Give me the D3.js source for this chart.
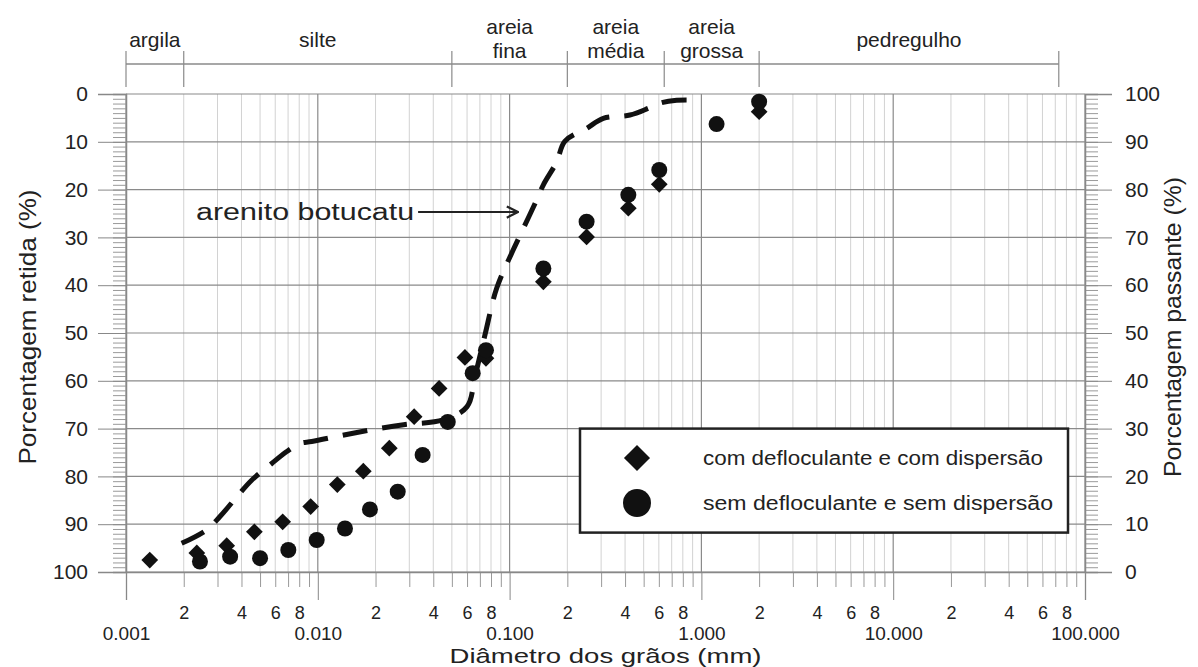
<!DOCTYPE html>
<html><head><meta charset="utf-8">
<script src="https://cdn.jsdelivr.net/npm/d3@7"></script>
<style>
body{margin:0;background:#fff}
text{font-family:"Liberation Sans",Arial,Helvetica,sans-serif;fill:#222}
</style>
</head><body>
<svg id="c" width="1198" height="667"></svg>
<script>
// ---------- data ----------
const decadeValues = [0.001, 0.01, 0.1, 1, 10, 100];
const decadeLabels = ["0.001", "0.010", "0.100", "1.000", "10.000", "100.000"];
const minorDigits = [2, 3, 4, 5, 6, 7, 8, 9];
const minorLabelDigits = [2, 4, 6, 8];
const retainedTicks = [0, 10, 20, 30, 40, 50, 60, 70, 80, 90, 100];
const passingTicks = [0, 10, 20, 30, 40, 50, 60, 70, 80, 90, 100];

const classNames = [["argila"], ["silte"], ["areia", "fina"], ["areia", "média"], ["areia", "grossa"], ["pedregulho"]];
const classBounds = [0.001, 0.002, 0.05, 0.2, 0.64, 2.0, 73];

const diamondX = [0.00133, 0.00234, 0.00335, 0.00467, 0.00656, 0.00918, 0.01264, 0.01727, 0.0236, 0.0318, 0.0429, 0.0585, 0.0753, 0.150, 0.252, 0.416, 0.603, 2.0];
const diamondY = [97.5, 96.0, 94.5, 91.6, 89.5, 86.3, 81.7, 78.9, 74.1, 67.5, 61.6, 55.1, 55.3, 39.3, 29.9, 23.9, 18.9, 3.7];

const circleX = [0.00243, 0.00349, 0.0050, 0.00702, 0.00987, 0.01386, 0.0187, 0.0261, 0.0352, 0.0476, 0.0642, 0.0753, 0.150, 0.252, 0.416, 0.603, 1.20, 2.0];
const circleY = [97.8, 96.8, 97.1, 95.4, 93.3, 90.9, 86.9, 83.2, 75.5, 68.6, 58.4, 53.6, 36.5, 26.7, 21.1, 15.9, 6.3, 1.6];

const lineX = [0.00195, 0.00263, 0.00309, 0.00385, 0.00452, 0.00575, 0.00689, 0.00807, 0.0093, 0.016, 0.028, 0.045, 0.06, 0.066, 0.0744, 0.0857, 0.1045, 0.118, 0.1357, 0.150, 0.176, 0.194, 0.252, 0.308, 0.424, 0.528, 0.608, 0.743, 1.0];
const lineY = [94.0, 91.2, 88.4, 83.9, 80.8, 77.3, 74.8, 73.1, 72.7, 70.8, 69.2, 68.2, 65.4, 59.1, 50.4, 40.6, 32.6, 28.1, 22.9, 19.0, 14.2, 9.9, 7.2, 5.1, 4.4, 3.0, 1.9, 1.3, 1.3];
const lineName = "arenito botucatu";
const annotationTip = [0.1106, 24.7];
const annotationTextX = [0.00232];

const legendLabels = ["com defloculante e com dispersão", "sem defloculante e sem dispersão"];

// ---------- chart ----------
(function () {
const svg = d3.select("#c");
const x = d3.scaleLog().domain([0.001, 100]).range([126, 1085]);
const y = d3.scaleLinear().domain([0, 100]).range([94, 572]);
const yR = d3.scaleLinear().domain([100, 0]).range([94, 572]);
const pTop = y(0), pBot = y(100), pLeft = x(0.001), pRight = x(100);

const minorVals = decadeValues.slice(0, -1).flatMap(d => minorDigits.map(k => d * k));
const leadDigit = d => Math.round(d / Math.pow(10, Math.floor(Math.log10(d) + 1e-9)));

// minor vertical grid
svg.append("g").selectAll("line").data(minorVals).join("line")
  .attr("x1", d => x(d)).attr("x2", d => x(d)).attr("y1", pTop).attr("y2", pBot)
  .attr("stroke", "#d2d2d2").attr("stroke-width", 1);
// major vertical grid
svg.append("g").selectAll("line").data(decadeValues).join("line")
  .attr("x1", d => x(d)).attr("x2", d => x(d)).attr("y1", pTop).attr("y2", pBot)
  .attr("stroke", "#8a8a8a").attr("stroke-width", 1.2);
// horizontal grid
svg.append("g").selectAll("line").data(retainedTicks).join("line")
  .attr("x1", pLeft).attr("x2", pRight).attr("y1", d => y(d)).attr("y2", d => y(d))
  .attr("stroke", "#8a8a8a").attr("stroke-width", 1.2);

function styleAxis(g, col) {
  g.select(".domain").attr("stroke", col).attr("stroke-width", 1.3);
  g.selectAll(".tick line").attr("stroke", col);
  g.selectAll(".tick text").style("font-size", "21px").attr("fill", "#222");
}

// bottom minor axis
const gbMin = svg.append("g").attr("transform", `translate(0,${pBot})`)
  .call(d3.axisBottom(x).tickValues(minorVals).tickSize(15)
    .tickFormat(d => minorLabelDigits.includes(leadDigit(d)) ? String(leadDigit(d)) : ""));
styleAxis(gbMin, "#999");
gbMin.select(".domain").remove();
gbMin.selectAll(".tick text").style("font-size", "18px").attr("y", 47).attr("dy", null);

// bottom major axis
const gbMaj = svg.append("g").attr("transform", `translate(0,${pBot})`)
  .call(d3.axisBottom(x).tickValues(decadeValues).tickSize(28).tickFormat((d, i) => decadeLabels[i]));
styleAxis(gbMaj, "#888");
gbMaj.selectAll(".tick text").style("font-size", "19px").attr("y", 68).attr("dy", null);

// left axis
const glMin = svg.append("g").attr("transform", `translate(${pLeft},0)`)
  .call(d3.axisLeft(y).tickValues(d3.range(0, 101, 1)).tickSize(13).tickFormat(""));
styleAxis(glMin, "#9a9a9a");
const gl = svg.append("g").attr("transform", `translate(${pLeft},0)`)
  .call(d3.axisLeft(y).tickValues(retainedTicks).tickSize(28).tickPadding(10));
styleAxis(gl, "#888");

// right axis
const grMin = svg.append("g").attr("transform", `translate(${pRight},0)`)
  .call(d3.axisRight(yR).tickValues(d3.range(0, 101, 1)).tickSize(13).tickFormat(""));
styleAxis(grMin, "#9a9a9a");
const gr = svg.append("g").attr("transform", `translate(${pRight},0)`)
  .call(d3.axisRight(yR).tickValues(passingTicks).tickSize(27).tickPadding(13));
styleAxis(gr, "#888");

// axis titles
svg.append("text").attr("transform", `translate(36,${(pTop + pBot) / 2 - 6}) rotate(-90)`)
  .attr("text-anchor", "middle").style("font-size", "24px").attr("textLength", 275)
  .attr("lengthAdjust", "spacingAndGlyphs").text("Porcentagem retida (%)");
svg.append("text").attr("transform", `translate(1181,${(pTop + pBot) / 2 - 6}) rotate(-90)`)
  .attr("text-anchor", "middle").style("font-size", "24px").attr("textLength", 300)
  .attr("lengthAdjust", "spacingAndGlyphs").text("Porcentagem passante (%)");
svg.append("text").attr("x", (pLeft + pRight) / 2).attr("y", 663)
  .attr("text-anchor", "middle").style("font-size", "21px").attr("textLength", 312)
  .attr("lengthAdjust", "spacingAndGlyphs").text("Diâmetro dos grãos (mm)");

// classification header
const hdr = svg.append("g");
hdr.append("line").attr("x1", x(classBounds[0])).attr("x2", x(classBounds[classBounds.length - 1]))
  .attr("y1", 64).attr("y2", 64).attr("stroke", "#8a8a8a").attr("stroke-width", 1.3);
hdr.selectAll("line.b").data(classBounds).join("line").attr("class", "b")
  .attr("x1", d => x(d)).attr("x2", d => x(d)).attr("y1", 51).attr("y2", 87)
  .attr("stroke", "#8a8a8a").attr("stroke-width", 1.2);
classNames.forEach((nm, i) => {
  const cx = x(Math.sqrt(classBounds[i] * classBounds[i + 1]));
  if (nm.length === 1) {
    hdr.append("text").attr("x", cx).attr("y", 47).attr("text-anchor", "middle")
      .style("font-size", "21px").text(nm[0]);
  } else {
    hdr.append("text").attr("x", cx).attr("y", 34).attr("text-anchor", "middle")
      .style("font-size", "21px").text(nm[0]);
    hdr.append("text").attr("x", cx).attr("y", 58).attr("text-anchor", "middle")
      .style("font-size", "21px").text(nm[1]);
  }
});

// dashed curve
const lineData = lineX.map((v, i) => [v, lineY[i]]);
svg.append("path").datum(lineData)
  .attr("d", d3.line().x(d => x(d[0])).y(d => y(d[1])).curve(d3.curveCatmullRom.alpha(0.5)))
  .attr("fill", "none").attr("stroke", "#111").attr("stroke-width", 5)
  .attr("stroke-dasharray", "25,15");

// points
const diamond = d3.symbol().type(d3.symbolSquare).size(140);
svg.append("g").selectAll("path").data(diamondX.map((v, i) => [v, diamondY[i]])).join("path")
  .attr("d", diamond)
  .attr("transform", d => `translate(${x(d[0])},${y(d[1])}) rotate(45)`)
  .attr("fill", "#111");
svg.append("g").selectAll("circle").data(circleX.map((v, i) => [v, circleY[i]])).join("circle")
  .attr("cx", d => x(d[0])).attr("cy", d => y(d[1])).attr("r", 8).attr("fill", "#111");

// annotation
const defs = svg.append("defs");
defs.append("marker").attr("id", "arr").attr("viewBox", "0 0 10 10").attr("refX", 9).attr("refY", 5)
  .attr("markerWidth", 7).attr("markerHeight", 7).attr("orient", "auto")
  .append("path").attr("d", "M1,1 L9,5 L1,9").attr("fill", "none").attr("stroke", "#222").attr("stroke-width", 1.6);
const ay = y(annotationTip[1]);
svg.append("text").attr("x", x(annotationTextX[0])).attr("y", ay + 8)
  .style("font-size", "23px").attr("textLength", 218).attr("lengthAdjust", "spacingAndGlyphs")
  .text(lineName);
svg.append("line").attr("x1", x(annotationTextX[0]) + 222).attr("x2", x(annotationTip[0]))
  .attr("y1", ay).attr("y2", ay).attr("stroke", "#222").attr("stroke-width", 2)
  .attr("marker-end", "url(#arr)");

// legend
const lg = svg.append("g");
lg.append("rect").attr("x", 580).attr("y", y(70)).attr("width", 488).attr("height", 104)
  .attr("fill", "#fff").attr("stroke", "#222").attr("stroke-width", 2.5);
lg.append("path").attr("d", d3.symbol().type(d3.symbolSquare).size(340))
  .attr("transform", `translate(637,458) rotate(45)`).attr("fill", "#111");
lg.append("circle").attr("cx", 637).attr("cy", 503).attr("r", 14).attr("fill", "#111");
legendLabels.forEach((t, i) => {
  lg.append("text").attr("x", 703).attr("y", 465 + i * 45).style("font-size", "20px")
    .attr("textLength", i === 0 ? 340 : 350).attr("lengthAdjust", "spacingAndGlyphs").text(t);
});
})();
</script>
</body></html>
